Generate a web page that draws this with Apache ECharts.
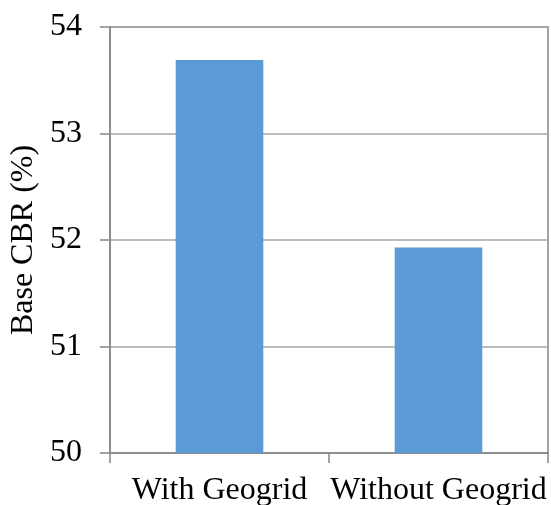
<!DOCTYPE html>
<html>
<head>
<meta charset="utf-8">
<script src="https://cdn.jsdelivr.net/npm/echarts@6/dist/echarts.min.js"></script>
<style>html,body{margin:0;padding:0;background:#fff;}#c{width:551px;height:505px;}</style>
</head>
<body>
<div id="c"></div>
<script>
var categories = ["With Geogrid", "Without Geogrid"];
var baseCBR = [53.69, 51.93];
var yTicks = [50, 51, 52, 53, 54];
var yTitle = "Base CBR (%)";

var font = "'Liberation Serif', 'Times New Roman', serif";
var chart = echarts.init(document.getElementById('c'), null, {renderer: 'canvas'});
chart.setOption({
  animation: false,
  backgroundColor: '#ffffff',
  grid: {left: 110, right: 3, top: 27, bottom: 52, containLabel: false, outerBoundsMode: 'none', show: true, borderColor: '#868686', borderWidth: 1.5, backgroundColor: 'transparent'},
  xAxis: {
    type: 'category',
    data: categories,
    axisLine: {show: true, lineStyle: {color: '#868686', width: 1.5}},
    axisTick: {show: true, length: 10, alignWithLabel: false, lineStyle: {color: '#868686', width: 1.5}},
    axisLabel: {color: '#000', fontFamily: font, fontSize: 32, margin: 22, interval: 0}
  },
  yAxis: {
    type: 'value',
    min: yTicks[0],
    max: yTicks[yTicks.length - 1],
    interval: 1,
    name: yTitle,
    nameLocation: 'middle',
    nameGap: 67,
    nameTextStyle: {color: '#000', fontFamily: font, fontSize: 32},
    axisLine: {show: true, lineStyle: {color: '#868686', width: 1.5}},
    axisTick: {show: true, length: 10, lineStyle: {color: '#868686', width: 1.5}},
    axisLabel: {color: '#000', fontFamily: font, fontSize: 32, margin: 28},
    splitLine: {show: true, lineStyle: {color: '#A6A6A6', width: 1.5}}
  },
  series: [{
    type: 'bar',
    data: baseCBR,
    barWidth: '40%',
    itemStyle: {color: '#5B9BD5'}
  }]
});
</script>
</body>
</html>
